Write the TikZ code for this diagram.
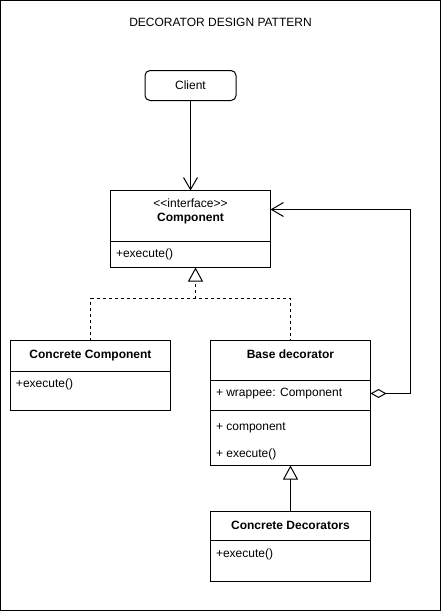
\documentclass[tikz,border=0pt]{standalone}
\usepackage{fontspec}
\setmainfont{Liberation Sans}
\usetikzlibrary{arrows.meta,positioning}

\begin{document}
\begin{tikzpicture}[
  x=1pt, y=-1pt,
  font=\fontsize{12}{14}\selectfont,
  line width=1pt,
  part/.style={draw, anchor=north west, inner sep=0pt, outer sep=0pt,
    minimum width=160pt, minimum height=#1},
  head/.style={font=\fontsize{12}{14}\selectfont\bfseries, inner sep=0pt},
  member/.style={anchor=west, inner sep=0pt},
  inherit/.style={-{Triangle[open, length=14pt, width=15pt]}},
  realize/.style={dash pattern=on 3pt off 3pt},
  assoc/.style={-{Straight Barb[length=12pt, width=14pt]}}
]
\useasboundingbox (0,0) rectangle (441,611);
\draw (0.5,0.5) rectangle (440.5,610.5);

% ── Title ──────────────────────────────────────────────────────────────────
\node[inner sep=0pt] (title) at (220.5,22) {DECORATOR DESIGN PATTERN};

% ── Client ─────────────────────────────────────────────────────────────────
\node[draw, rounded corners=5pt, minimum width=91pt, minimum height=30pt,
  inner sep=0pt, outer sep=0pt] (client) at (190.5,85.5) {Client};

% ── Component interface ────────────────────────────────────────────────────
\node[part=51pt] (comp)    at (110.5,190.5) {};
\node[part=26pt] (compops) at (comp.south west) {};
\node[inner sep=0pt, align=center] (comptitle) at (190.5,211)
  {<\kern0pt<interface>\kern0pt>\\\bfseries Component};
\node[member] (compexec) at (115.5,254) {+execute()};

% ── Concrete Component ─────────────────────────────────────────────────────
\node[part=31pt] (ccomp)    at (10.5,340.5) {};
\node[part=39pt] (ccompops) at (ccomp.south west) {};
\node[head]   (ccomptitle) at (90.5,355.5) {Concrete Component};
\node[member] (ccompexec)  at (15.5,384) {+execute()};

% ── Base decorator ─────────────────────────────────────────────────────────
\node[part=40pt] (deco)     at (210.5,340.5) {};
\node[part=30pt] (decoattr) at (deco.south west) {};
\node[part=55pt] (decoops)  at (decoattr.south west) {};
\node[head]   (decotitle) at (290.5,354) {Base decorator};
\node[member] (decowrap)  at (215.5,394) {+ wrappee: Component};
\node[member] (decocomp)  at (215.5,428) {+ component};
\node[member] (decoexec)  at (215.5,454) {+ execute()};

% ── Concrete Decorators ────────────────────────────────────────────────────
\node[part=29pt] (cdec)    at (210.5,511.5) {};
\node[part=41pt] (cdecops) at (cdec.south west) {};
\node[head]   (cdectitle) at (290.5,525) {Concrete Decorators};
\node[member] (cdecexec)  at (215.5,554) {+execute()};

% ── Connectors ─────────────────────────────────────────────────────────────
\draw[assoc] (client) -- (comp);

\coordinate (junc) at (195.5,298.5);
\draw[realize] (ccomp.north) |- (junc) -| (deco.north);
\draw[realize, inherit] (junc) -- (junc |- compops.south);

\draw[inherit] (cdec.north) -- (decoops.south);

\coordinate (wrapend) at ([yshift=2pt]decoattr.east);
\draw[{Diamond[open, length=16pt, width=9pt]}-{Straight Barb[length=12pt, width=14pt]}]
  (wrapend) -- ++(40,0) |- ([yshift=-19pt]comp.north east);

\end{tikzpicture}
\end{document}
